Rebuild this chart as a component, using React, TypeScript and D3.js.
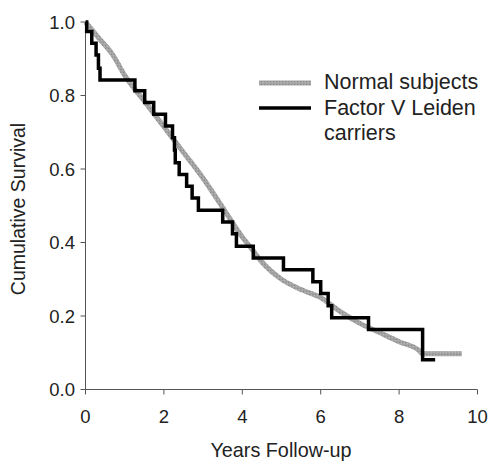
import React from 'react';
import * as d3 from 'd3';

// normal subjects (smooth-looking Kaplan-Meier curve)
const normalYears = [0, 0.35, 0.7, 1.0, 1.5, 2.0, 2.5, 3.0, 3.5, 4.0, 4.2, 4.5, 5.0, 5.5, 6.0, 6.5, 7.0, 7.5, 8.0, 8.5, 8.6, 9.6];
const normalSurv = [1.0, 0.955, 0.91, 0.855, 0.785, 0.715, 0.645, 0.575, 0.495, 0.415, 0.388, 0.347, 0.3, 0.272, 0.25, 0.212, 0.18, 0.155, 0.13, 0.107, 0.097, 0.097];

// factor V Leiden carriers (step curve)
const leidenYears = [0, 0.03, 0.16, 0.27, 0.33, 0.37, 1.26, 1.51, 1.74, 2.04, 2.22, 2.27, 2.29, 2.39, 2.58, 2.72, 2.88, 3.5, 3.75, 3.85, 4.28, 5.05, 5.8, 6.0, 6.19, 6.28, 7.22, 8.6, 8.92];
const leidenSurv = [1.0, 0.974, 0.942, 0.91, 0.874, 0.842, 0.813, 0.781, 0.749, 0.717, 0.685, 0.652, 0.617, 0.585, 0.553, 0.521, 0.488, 0.456, 0.424, 0.39, 0.358, 0.326, 0.293, 0.261, 0.228, 0.195, 0.163, 0.081, 0.081];

const xTicks = [0, 2, 4, 6, 8, 10];
const yTicks = [0, 0.2, 0.4, 0.6, 0.8, 1.0];
const legendLabels = ['Normal subjects', 'Factor V Leiden', 'carriers'];

const W = 489;
const H = 461;
const font = "'Liberation Sans', Arial, Helvetica, sans-serif";
const ink = '#222';

const App = () => {
  const x = d3.scaleLinear().domain([0, 10]).range([85.5, 477.5]);
  const y = d3.scaleLinear().domain([0, 1]).range([389.5, 22]);

  const normal = normalYears.map((t, i) => [t, normalSurv[i]] as [number, number]);
  const leiden = leidenYears.map((t, i) => [t, leidenSurv[i]] as [number, number]);

  const smooth = d3.line<[number, number]>()
    .x((d) => x(d[0]))
    .y((d) => y(d[1]))
    .curve(d3.curveMonotoneX);
  const steps = d3.line<[number, number]>()
    .x((d) => x(d[0]))
    .y((d) => y(d[1]))
    .curve(d3.curveStepAfter);

  return (
    <svg width={W} height={H} style={{ position: 'absolute', left: 0, top: 0, background: '#fff' }}>
      <defs>
        <pattern id="grain" width="3" height="3" patternUnits="userSpaceOnUse">
          <rect width="3" height="3" fill="#a3a3a3" />
          <rect width="1" height="1" fill="#8a8a8a" />
          <rect x="2" y="1" width="1" height="1" fill="#b8b8b8" />
        </pattern>
      </defs>

      {/* axes */}
      <g stroke="#555" strokeWidth={1} fill="none">
        <line x1={x(0)} x2={x(0)} y1={y(1)} y2={y(0)} />
        <line x1={x(0)} x2={x(10)} y1={y(0)} y2={y(0)} />
        {yTicks.map((t) => (
          <line key={'yt' + t} x1={x(0) - 5} x2={x(0)} y1={y(t)} y2={y(t)} />
        ))}
        {xTicks.map((t) => (
          <line key={'xt' + t} x1={x(t)} x2={x(t)} y1={y(0)} y2={y(0) + 5} />
        ))}
      </g>

      <g fontFamily={font} fill={ink}>
        {yTicks.map((t) => (
          <text key={'yl' + t} x={75} y={y(t) + 6.5} fontSize={18.5} textAnchor="end">
            {t.toFixed(1)}
          </text>
        ))}
        {xTicks.map((t) => (
          <text key={'xl' + t} x={x(t)} y={423} fontSize={18.5} textAnchor="middle">
            {t}
          </text>
        ))}
        <text x={281} y={457} fontSize={19.8} textAnchor="middle">Years Follow-up</text>
        <text transform={`translate(25,209) rotate(-90)`} fontSize={19.5} textAnchor="middle">
          Cumulative Survival
        </text>
      </g>

      {/* curves */}
      <path d={smooth(normal) ?? ''} fill="none" stroke="url(#grain)" strokeWidth={5} strokeLinejoin="round" />
      <path d={steps(leiden) ?? ''} fill="none" stroke="#000" strokeWidth={3.5} strokeLinejoin="miter" />

      {/* legend */}
      <line x1={259} x2={311} y1={83} y2={83} stroke="url(#grain)" strokeWidth={5} />
      <line x1={259} x2={311} y1={108} y2={108} stroke="#000" strokeWidth={3.5} />
      <g fontFamily={font} fill={ink} fontSize={21.5}>
        <text x={324} y={89}>{legendLabels[0]}</text>
        <text x={324} y={114.5}>{legendLabels[1]}</text>
        <text x={324} y={139.5}>{legendLabels[2]}</text>
      </g>
    </svg>
  );
};

export default App;
